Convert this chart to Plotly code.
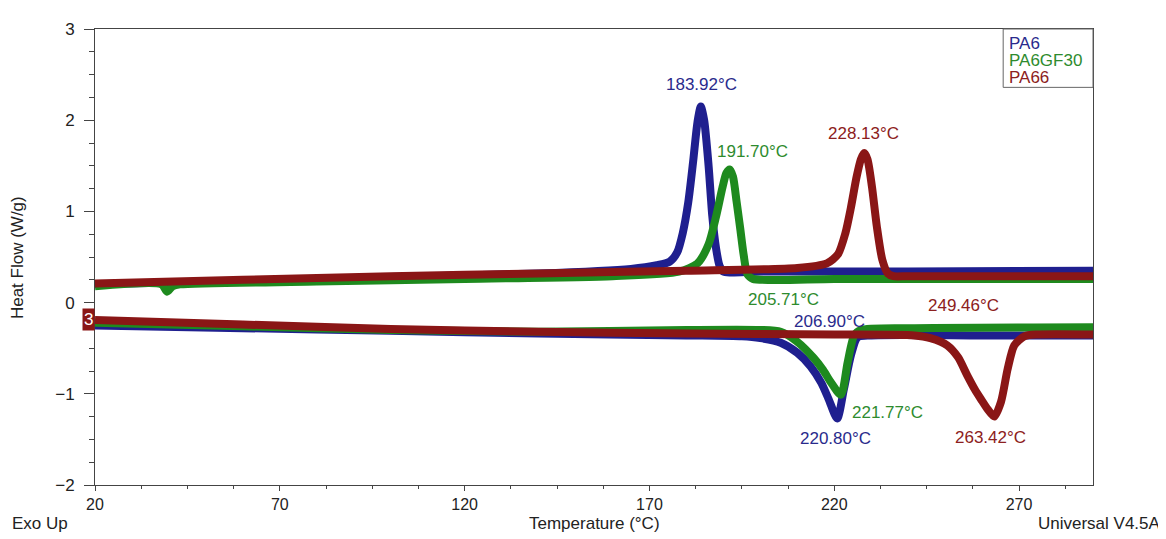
import plotly.graph_objects as go

# ---------------- data ----------------
# Cooling (crystallisation) curves - upper
pa6_cool_T = [20, 60, 100, 140, 165, 172, 175.5, 177.5, 179, 180.5, 181.8, 183, 183.9, 184.8, 186, 187, 188, 189, 190, 192, 200, 240, 290]
pa6_cool_V = [0.20, 0.24, 0.28, 0.32, 0.37, 0.41, 0.45, 0.55, 0.76, 1.10, 1.54, 1.98, 2.15, 2.0, 1.5, 0.95, 0.6, 0.40, 0.34, 0.33, 0.34, 0.34, 0.35]

gf_cool_T = [20, 38, 39.5, 41, 43, 80, 120, 160, 178, 183, 186, 188, 189.8, 190.8, 191.7, 192.6, 193.6, 194.6, 195.5, 196.5, 198, 220, 260, 290]
gf_cool_V = [0.18, 0.20, 0.12, 0.18, 0.20, 0.23, 0.26, 0.29, 0.34, 0.43, 0.64, 0.94, 1.27, 1.42, 1.46, 1.38, 1.10, 0.80, 0.52, 0.31, 0.26, 0.26, 0.26, 0.26]

pa66_cool_T = [20, 60, 100, 140, 180, 210, 218, 221, 223, 224.5, 226, 227.2, 228.1, 229, 230.2, 231.5, 233, 234.5, 236, 240, 290]
pa66_cool_V = [0.21, 0.25, 0.29, 0.32, 0.35, 0.38, 0.43, 0.53, 0.76, 1.04, 1.37, 1.57, 1.64, 1.57, 1.27, 0.84, 0.47, 0.32, 0.29, 0.29, 0.29]

# Heating (melting) curves - lower
pa6_heat_T = [20, 60, 100, 140, 180, 195, 200, 205.5, 210, 213.6, 216.5, 218.5, 220.8, 222.6, 224.5, 226.3, 230, 260, 290]
pa6_heat_V = [-0.25, -0.28, -0.31, -0.34, -0.36, -0.37, -0.39, -0.44, -0.55, -0.70, -0.88, -1.06, -1.27, -0.95, -0.58, -0.38, -0.36, -0.36, -0.36]

gf_heat_T = [20, 60, 100, 140, 180, 200, 205.5, 210, 214.5, 217, 219, 221.8, 223.6, 225.4, 227.2, 240, 290]
gf_heat_V = [-0.22, -0.26, -0.30, -0.32, -0.30, -0.30, -0.32, -0.43, -0.61, -0.74, -0.87, -1.01, -0.66, -0.36, -0.30, -0.28, -0.27]

pa66_heat_T = [20, 60, 100, 140, 180, 220, 241.6, 246, 250.6, 253.5, 256, 258, 259.7, 261.5, 263.3, 265.1, 266.9, 268.7, 271.4, 275, 290]
pa66_heat_V = [-0.19, -0.24, -0.29, -0.32, -0.34, -0.35, -0.36, -0.39, -0.47, -0.60, -0.80, -0.95, -1.06, -1.17, -1.25, -1.09, -0.73, -0.47, -0.37, -0.35, -0.35]

series_names = ["PA6", "PA6GF30", "PA66"]
x_ticks = [20, 70, 120, 170, 220, 270]
y_ticks = [-2, -1, 0, 1, 2, 3]

# peak labels: (text, T, value, colour key)
peak_labels = [
    ("183.92°C", 184.0, 2.39, "PA6"),
    ("191.70°C", 197.9, 1.66, "PA6GF30"),
    ("228.13°C", 227.8, 1.85, "PA66"),
    ("205.71°C", 206.4, 0.03, "PA6GF30"),
    ("206.90°C", 218.8, -0.21, "PA6"),
    ("249.46°C", 255.0, -0.03, "PA66"),
    ("221.77°C", 234.5, -1.21, "PA6GF30"),
    ("220.80°C", 220.4, -1.49, "PA6"),
    ("263.42°C", 262.4, -1.48, "PA66"),
]

line_col = {"PA6": "#1f1f8f", "PA6GF30": "#1e8a1e", "PA66": "#8a1616"}
text_col = {"PA6": "#2a2a8c", "PA6GF30": "#2e8b2e", "PA66": "#8c2020"}

fig = go.Figure()
curves = [
    (pa6_cool_T, pa6_cool_V, "PA6"),
    (pa6_heat_T, pa6_heat_V, "PA6"),
    (gf_cool_T, gf_cool_V, "PA6GF30"),
    (gf_heat_T, gf_heat_V, "PA6GF30"),
    (pa66_cool_T, pa66_cool_V, "PA66"),
    (pa66_heat_T, pa66_heat_V, "PA66"),
]
for T, V, name in curves:
    fig.add_trace(go.Scatter(
        x=T, y=V, mode="lines", name=name, showlegend=False,
        line=dict(color=line_col[name], width=8, shape="spline", smoothing=0.7),
    ))

font_family = "Liberation Sans, Arial, sans-serif"
FS = 17

for txt, tx, ty, key in peak_labels:
    fig.add_annotation(x=tx, y=ty, xref="x", yref="y", text=txt, showarrow=False,
                       font=dict(family=font_family, size=FS, color=text_col[key]))

# "3" marker box at the left axis
fig.add_annotation(x=20, y=-0.19, xref="x", yref="y", text="3", showarrow=False,
                   xanchor="right", bgcolor="#8a1616", borderpad=1,
                   font=dict(family=font_family, size=17, color="white"))

# legend-like box (drawn as a rectangle + coloured texts)
fig.add_shape(type="rect", xref="paper", yref="paper", x0=0.910, x1=1.0, y0=0.872, y1=1.0,
              line=dict(color="#666666", width=1), fillcolor="white", layer="above")
legend_y = [0.9675, 0.931, 0.894]
for n, ly in zip(series_names, legend_y):
    fig.add_annotation(x=0.914, y=ly, xref="paper", yref="paper", xanchor="left",
                       yanchor="middle", text=n, showarrow=False,
                       font=dict(family=font_family, size=FS, color=text_col[n]))

# bottom texts
bottom_y = -0.084
fig.add_annotation(x=-0.085, y=bottom_y, xref="paper", yref="paper", xanchor="left",
                   yanchor="middle", text="Exo Up", showarrow=False,
                   font=dict(family=font_family, size=FS, color="#222222"))
fig.add_annotation(x=0.5, y=bottom_y, xref="paper", yref="paper", xanchor="center",
                   yanchor="middle", text="Temperature (°C)", showarrow=False,
                   font=dict(family=font_family, size=FS, color="#222222"))
fig.add_annotation(x=1.07, y=bottom_y, xref="paper", yref="paper", xanchor="right",
                   yanchor="middle", text="Universal V4.5A", showarrow=False,
                   font=dict(family=font_family, size=FS, color="#222222"))
fig.add_annotation(x=-0.077, y=0.498, xref="paper", yref="paper", xanchor="center",
                   yanchor="middle", text="Heat Flow (W/g)", showarrow=False, textangle=-90,
                   font=dict(family=font_family, size=FS, color="#222222"))

fig.update_xaxes(range=[20, 290], tickvals=x_ticks, showgrid=False, zeroline=False,
                 showline=True, linecolor="#444444", linewidth=1, mirror=True,
                 ticks="outside", ticklen=5, tickcolor="#444444",
                 minor=dict(dtick=12.5, tick0=20, ticks="outside", ticklen=3, tickcolor="#444444"),
                 tickfont=dict(family=font_family, size=16, color="#222222"))
fig.update_yaxes(range=[-2, 3], tickvals=y_ticks, showgrid=False, zeroline=False,
                 showline=True, linecolor="#444444", linewidth=1, mirror=True,
                 ticks="outside", ticklen=10, tickcolor="#444444", ticklabelstandoff=6,
                 minor=dict(dtick=0.25, tick0=0, ticks="outside", ticklen=5, tickcolor="#444444"),
                 tickfont=dict(family=font_family, size=FS, color="#222222"))

# page has an 8px body margin, so the figure is offset by 8px in the window
fig.update_layout(width=1158, height=531, plot_bgcolor="white", paper_bgcolor="white",
                  margin=dict(l=87, r=73, t=15, b=54), showlegend=False)

fig.write_html("out.html")
